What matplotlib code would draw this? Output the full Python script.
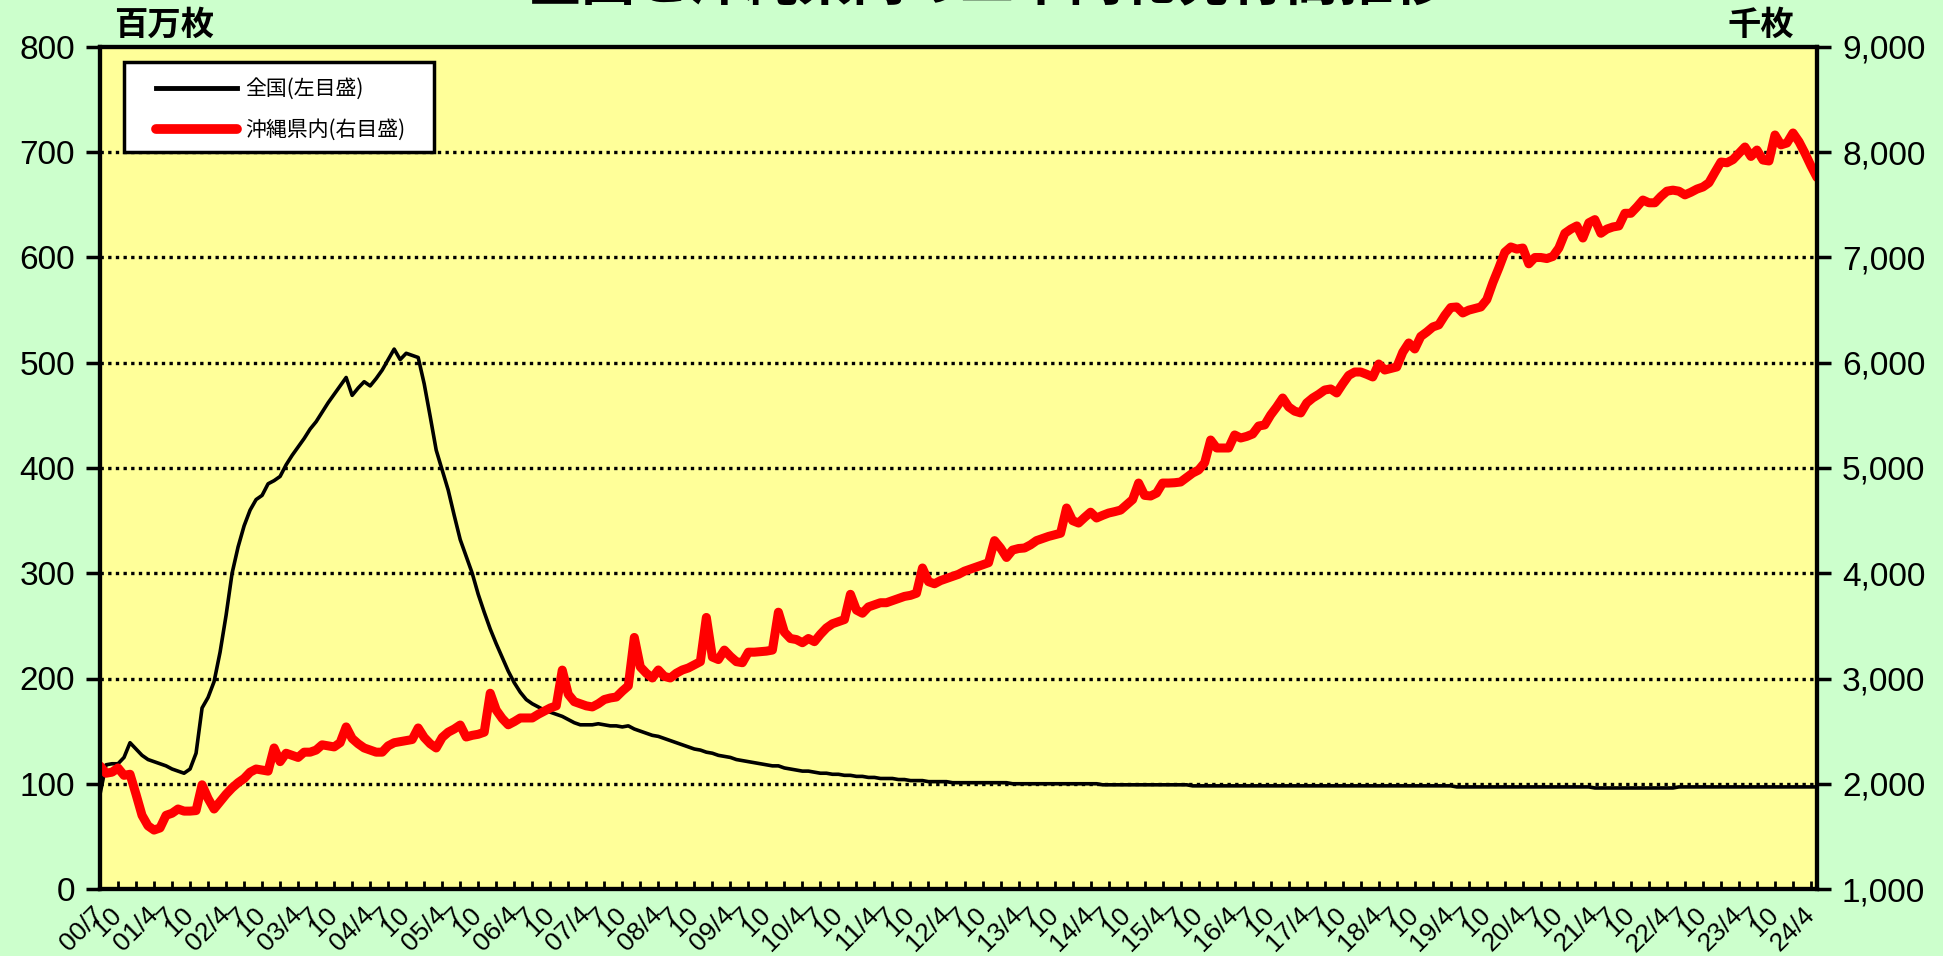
import numpy as np
import pandas as pd
import matplotlib
matplotlib.use("Agg")
import matplotlib.pyplot as plt
from matplotlib.patches import Rectangle
from matplotlib.ticker import FuncFormatter

plt.rcParams['font.family'] = ['Liberation Sans', 'Noto Sans CJK JP']

# monthly data, 2000/7 - 2024/5
months = pd.period_range('2000-07', '2024-05', freq='M')

# 全国 (million notes, left axis)
zenkoku = [
    90, 118, 119, 119, 125, 139,                                   # 2000
    133, 127, 123, 121, 119, 117, 114, 112, 110, 114, 129, 172,    # 2001
    182, 197, 225, 260, 300, 325, 345, 360, 370, 374, 385, 388,    # 2002
    392, 403, 412, 420, 428, 437, 444, 453, 462, 470, 478, 486,    # 2003
    469, 476, 482, 478, 485, 493, 503, 513, 503, 509, 507, 505,    # 2004
    480, 449, 417, 398, 379, 355, 332, 316, 300, 280, 263, 247,    # 2005
    233, 220, 207, 196, 187, 180, 176, 173, 170, 168, 166, 164,    # 2006
    161, 158, 156, 156, 156, 157, 156, 155, 155, 154, 155, 152,    # 2007
    150, 148, 146, 145, 143, 141, 139, 137, 135, 133, 132, 130,    # 2008
    129, 127, 126, 125, 123, 122, 121, 120, 119, 118, 117, 117,    # 2009
    115, 114, 113, 112, 112, 111, 110, 110, 109, 109, 108, 108,    # 2010
    107, 107, 106, 106, 105, 105, 105, 104, 104, 103, 103, 103,    # 2011
    102, 102, 102, 102, 101, 101, 101, 101, 101, 101, 101, 101,    # 2012
    101, 101, 100, 100, 100, 100, 100, 100, 100, 100, 100, 100,    # 2013
    100, 100, 100, 100, 100, 99, 99, 99, 99, 99, 99, 99,           # 2014
    99, 99, 99, 99, 99, 99, 99, 99, 98, 98, 98, 98,                # 2015
    98, 98, 98, 98, 98, 98, 98, 98, 98, 98, 98, 98,                # 2016
    98, 98, 98, 98, 98, 98, 98, 98, 98, 98, 98, 98,                # 2017
    98, 98, 98, 98, 98, 98, 98, 98, 98, 98, 98, 98,                # 2018
    98, 98, 98, 98, 97, 97, 97, 97, 97, 97, 97, 97,                # 2019
    97, 97, 97, 97, 97, 97, 97, 97, 97, 97, 97, 97,                # 2020
    97, 97, 97, 96, 96, 96, 96, 96, 96, 96, 96, 96,                # 2021
    96, 96, 96, 96, 96, 97, 97, 97, 97, 97, 97, 97,                # 2022
    97, 97, 97, 97, 97, 97, 97, 97, 97, 97, 97, 97,                # 2023
    97, 97, 97, 97, 97,                                            # 2024
]

# 沖縄県内 (thousand notes, right axis)
okinawa = [
    2170, 2100, 2110, 2150, 2080, 2090,                                     # 2000
    1900, 1700, 1600, 1560, 1580, 1700, 1720, 1760, 1740, 1740, 1745, 1990, # 2001
    1860, 1760, 1830, 1900, 1960, 2010, 2050, 2110, 2140, 2130, 2120, 2340, # 2002
    2210, 2290, 2270, 2250, 2300, 2300, 2320, 2370, 2360, 2350, 2390, 2540, # 2003
    2430, 2380, 2340, 2320, 2300, 2300, 2360, 2390, 2400, 2410, 2420, 2530, # 2004
    2440, 2380, 2340, 2440, 2490, 2520, 2558, 2444, 2460, 2470, 2490, 2860, # 2005
    2700, 2620, 2560, 2590, 2625, 2625, 2625, 2660, 2690, 2720, 2740, 3080, # 2006
    2850, 2780, 2760, 2740, 2730, 2760, 2800, 2815, 2824, 2880, 2930, 3390, # 2007
    3110, 3050, 3005, 3081, 3020, 3005, 3050, 3081, 3100, 3130, 3160, 3580, # 2008
    3204, 3180, 3270, 3210, 3160, 3150, 3250, 3250, 3255, 3260, 3270, 3630, # 2009
    3440, 3380, 3370, 3340, 3380, 3350, 3420, 3480, 3520, 3540, 3560, 3800, # 2010
    3650, 3620, 3680, 3700, 3720, 3720, 3740, 3760, 3780, 3790, 3810, 4050, # 2011
    3920, 3900, 3930, 3950, 3970, 3990, 4020, 4040, 4060, 4080, 4100, 4310, # 2012
    4240, 4150, 4220, 4235, 4240, 4270, 4310, 4330, 4350, 4365, 4380, 4620, # 2013
    4500, 4477, 4530, 4580, 4525, 4550, 4572, 4585, 4600, 4650, 4700, 4857, # 2014
    4740, 4734, 4762, 4857, 4857, 4860, 4867, 4910, 4952, 4981, 5050, 5266, # 2015
    5190, 5190, 5190, 5314, 5285, 5300, 5323, 5399, 5409, 5504, 5580, 5665, # 2016
    5580, 5540, 5523, 5618, 5665, 5700, 5741, 5751, 5713, 5800, 5880, 5912, # 2017
    5912, 5890, 5865, 5988, 5931, 5945, 5960, 6100, 6188, 6131, 6250, 6292, # 2018
    6340, 6360, 6450, 6525, 6530, 6473, 6500, 6515, 6530, 6600, 6760, 6900, # 2019
    7050, 7100, 7080, 7090, 6940, 7000, 7000, 6990, 7010, 7090, 7230, 7270, # 2020
    7300, 7185, 7330, 7360, 7230, 7270, 7290, 7300, 7420, 7420, 7480, 7546, # 2021
    7520, 7520, 7580, 7630, 7640, 7630, 7595, 7620, 7650, 7670, 7710, 7810, # 2022
    7907, 7900, 7930, 7990, 8050, 7960, 8021, 7926, 7917, 8164, 8070, 8088, # 2023
    8183, 8100, 7990, 7870, 7760,                                           # 2024
]

title = '全国と沖縄県内の二千円札発行高推移'
series_names = ['全国(左目盛)', '沖縄県内(右目盛)']

# quarterly tick labels: "YY/4", "7", "10", Jan left blank
tick_pos = list(range(0, len(months), 3))
tick_labels = []
for k in tick_pos:
    p = months[k]
    if k == 0:
        tick_labels.append(f"{p.year % 100:02d}/{p.month}")
    elif p.month == 4:
        tick_labels.append(f"{p.year % 100:02d}/4")
    elif p.month == 1:
        tick_labels.append("")
    else:
        tick_labels.append(str(p.month))

W, H = 1943, 956
fig = plt.figure(figsize=(W / 100, H / 100), dpi=100, facecolor='#CCFFCC')
ax = fig.add_axes([100 / W, 1 - 889 / H, 1717 / W, 842 / H])
ax.set_facecolor('#FFFF99')
ax2 = ax.twinx()

x = np.arange(len(months))
l1, = ax.plot(x, zenkoku, color='black', lw=2.6, zorder=3)
l2, = ax2.plot(x, okinawa, color='#FF0000', lw=6.5, solid_joinstyle='round',
               solid_capstyle='round')

ax.set_xlim(0, len(months) - 1)
ax.set_ylim(0, 800)
ax2.set_ylim(1000, 9000)
ax.set_yticks(range(0, 801, 100))
ax2.set_yticks(range(1000, 9001, 1000))
ax2.yaxis.set_major_formatter(FuncFormatter(lambda v, p: f'{v:,.0f}'))

for yv in range(100, 800, 100):
    ax.axhline(yv, color='black', lw=2.4, ls=(0, (1, 1.3)), zorder=1)

ax.set_xticks(tick_pos)
ax.set_xticklabels(tick_labels, rotation=45, ha='right', va='center',
                   rotation_mode='anchor', fontsize=19)
ax.tick_params(axis='x', direction='in', length=6, width=2, pad=16)
ax.tick_params(axis='y', direction='out', length=10, width=2.5, labelsize=24, pad=8)
ax2.tick_params(axis='y', direction='out', length=10, width=2.5, labelsize=24, pad=8)

for a in (ax, ax2):
    for s in a.spines.values():
        s.set_linewidth(3)
        s.set_color('black')

# legend box
ax2.add_patch(Rectangle((24 / 1717, (889 - 152) / 842), 310 / 1717, 90 / 842,
                        transform=ax2.transAxes, facecolor='white',
                        edgecolor='black', lw=2.5, zorder=5))
leg = ax2.legend([l1, l2], series_names, loc='upper left',
                 bbox_to_anchor=(56 / 1717, 0.963), borderaxespad=0, borderpad=0,
                 frameon=False, handlelength=3.9, handletextpad=0.4,
                 labelspacing=0.9, prop={'family': 'Noto Sans CJK JP', 'size': 15})
leg.set_zorder(6)
leg.get_lines()[1].set_linewidth(7)
leg.get_lines()[0].set_linewidth(3.5)

fig.text(164 / W, 1 - 25 / H, '百万枚', ha='center', va='center', fontsize=24,
         fontweight='bold', family='Noto Sans CJK JP')
fig.text(1761 / W, 1 - 25 / H, '千枚', ha='center', va='center', fontsize=24,
         fontweight='bold', family='Noto Sans CJK JP')
fig.text(988 / W, 1 - 12 / H, title, ha='center', va='bottom', fontsize=39,
         fontweight='bold', family='Noto Sans CJK JP')

fig.savefig('out.png', dpi=100, facecolor=fig.get_facecolor())
